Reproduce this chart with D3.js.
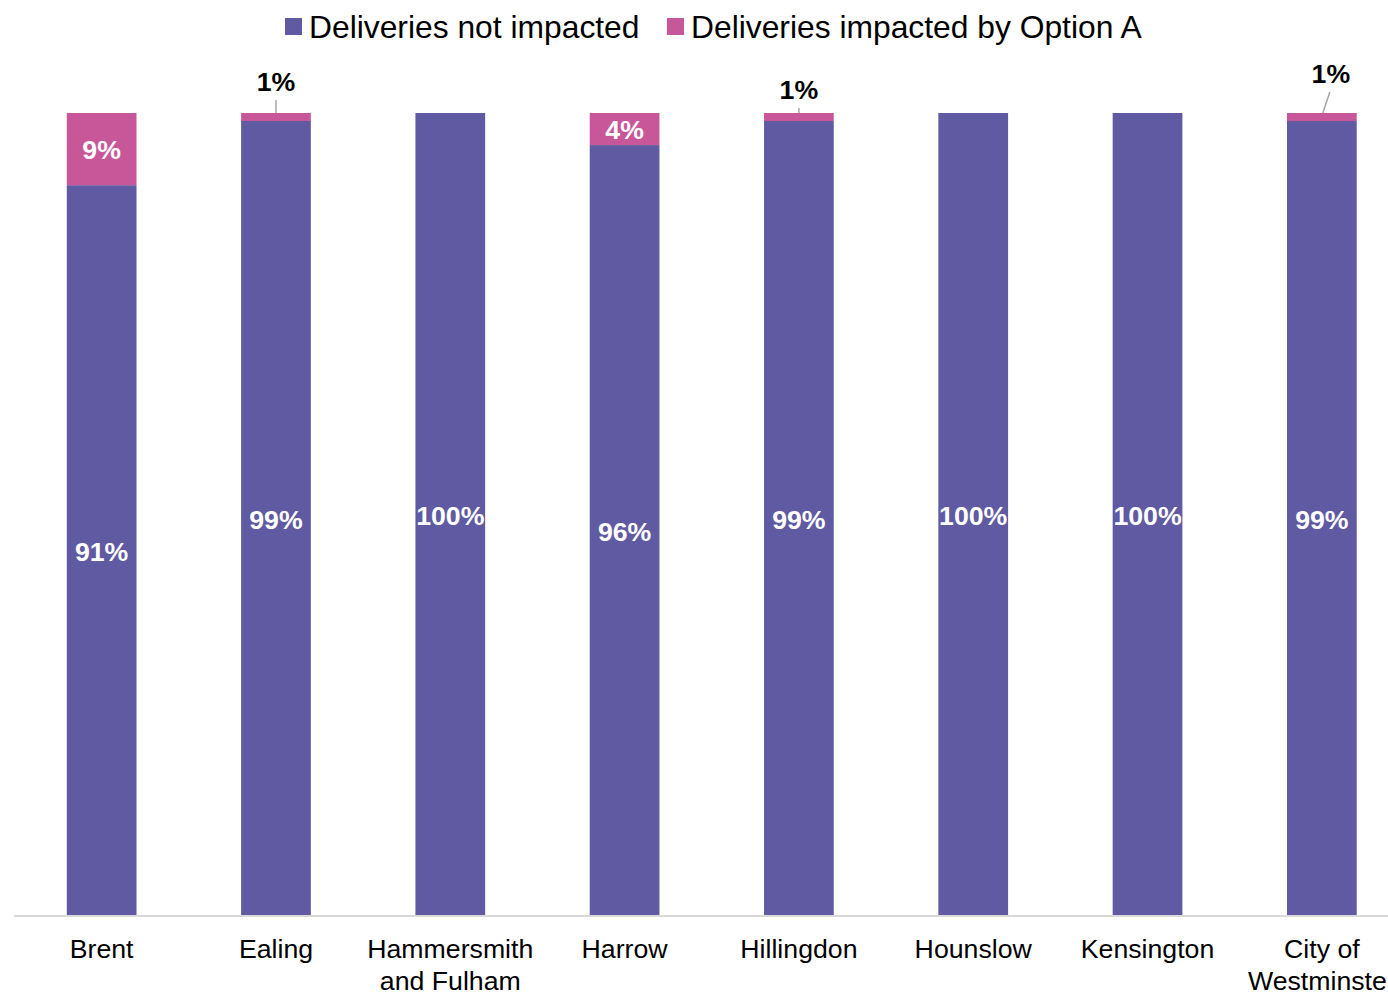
<!DOCTYPE html>
<html>
<head>
<meta charset="utf-8">
<script src="https://cdn.jsdelivr.net/npm/d3@7"></script>
<style>
  html, body { margin: 0; padding: 0; background: #fff; }
  svg { display: block; font-family: "Liberation Sans", Arial, sans-serif; }
</style>
</head>
<body>
<svg id="chart" width="1388" height="992"></svg>
<script>
// Boroughs and share of deliveries (percent)
const boroughs = ["Brent", "Ealing", "Hammersmith and Fulham", "Harrow", "Hillingdon", "Hounslow", "Kensington", "City of Westminster"];
const axisLines = [["Brent"], ["Ealing"], ["Hammersmith", "and Fulham"], ["Harrow"], ["Hillingdon"], ["Hounslow"], ["Kensington"], ["City of", "Westminster"]];
const notImpacted = [91, 99, 100, 96, 99, 100, 100, 99];
const impacted = [9, 1, 0, 4, 1, 0, 0, 1];
const seriesNames = ["Deliveries not impacted", "Deliveries impacted by Option A"];

const colors = ["#5f5aa2", "#c8579a"];

// Callout placement for thin segments labelled above the bar: [dx, dy of label centre from bar top]
const callouts = { 1: [0, -32], 4: [0, -24], 7: [9, -40] };

const svg = d3.select("#chart");
const margin = { left: 14.5, right: -21, top: 113, bottom: 77 };
const W = 1388, H = 992;
const labelSize = 26.7;

const x = d3.scaleBand()
  .domain(boroughs)
  .range([margin.left, W - margin.right])
  .paddingInner(0.6)
  .paddingOuter(0.3);

const y = d3.scaleLinear()
  .domain([0, 100])
  .range([H - margin.bottom, margin.top]);

const rows = boroughs.map((b, i) => ({ b, i, v0: notImpacted[i], v1: impacted[i] }));

// Stacked bars
const stack = d3.stack().keys(["v0", "v1"])(rows);
stack.forEach((layer, k) => {
  svg.append("g").selectAll("rect")
    .data(layer)
    .join("rect")
    .attr("x", d => x(d.data.b))
    .attr("width", x.bandwidth())
    .attr("y", d => y(d[1]))
    .attr("height", d => y(d[0]) - y(d[1]))
    .attr("fill", colors[k]);
});

// Category axis
const axisY = H - margin.bottom;
svg.append("line")
  .attr("x1", 14).attr("x2", W)
  .attr("y1", axisY + 1).attr("y2", axisY + 1)
  .attr("stroke", "#d9d9d9").attr("stroke-width", 2);

const ax = svg.append("g");
boroughs.forEach((b, i) => {
  const t = ax.append("text")
    .attr("x", x(b) + x.bandwidth() / 2)
    .attr("y", axisY + 43)
    .attr("text-anchor", "middle")
    .attr("font-size", labelSize)
    .attr("fill", "#000");
  axisLines[i].forEach((ln, j) => {
    t.append("tspan")
      .attr("x", x(b) + x.bandwidth() / 2)
      .attr("dy", j === 0 ? 0 : 32)
      .text(ln);
  });
});

// Labels inside the not-impacted segment
svg.append("g").selectAll("text")
  .data(rows)
  .join("text")
  .attr("x", d => x(d.b) + x.bandwidth() / 2)
  .attr("y", d => (y(0) + y(d.v0)) / 2 + 11)
  .attr("text-anchor", "middle")
  .attr("font-size", labelSize)
  .attr("font-weight", "bold")
  .attr("fill", "#fff")
  .text(d => d.v0 + "%");

// Labels for the impacted segment
rows.filter(d => d.v1 > 0).forEach(d => {
  const cx = x(d.b) + x.bandwidth() / 2;
  const top = y(d.v0 + d.v1);
  if (callouts[d.i]) {
    const [dx, dy] = callouts[d.i];
    const lx = cx + dx, ly = top + dy;
    svg.append("line")
      .attr("x1", lx - (dx ? 1 : 0)).attr("y1", ly + 19)
      .attr("x2", cx + (dx ? 1 : 0)).attr("y2", top)
      .attr("stroke", "#a6a6a6").attr("stroke-width", 1.5);
    svg.append("text")
      .attr("x", lx).attr("y", ly + 10)
      .attr("text-anchor", "middle")
      .attr("font-size", labelSize)
      .attr("font-weight", "bold")
      .attr("fill", "#000")
      .text(d.v1 + "%");
  } else {
    svg.append("text")
      .attr("x", cx).attr("y", (y(d.v0) + top) / 2 + 10)
      .attr("text-anchor", "middle")
      .attr("font-size", labelSize)
      .attr("font-weight", "bold")
      .attr("fill", "#fff")
      .text(d.v1 + "%");
  }
});

// Legend
const legend = svg.append("g");
const legendX = [285, 667];
seriesNames.forEach((name, k) => {
  legend.append("rect")
    .attr("x", legendX[k]).attr("y", 18)
    .attr("width", 17).attr("height", 17)
    .attr("fill", colors[k]);
  legend.append("text")
    .attr("x", legendX[k] + 24).attr("y", 38)
    .attr("font-size", 31.8)
    .attr("fill", "#000")
    .text(name);
});
</script>
</body>
</html>
